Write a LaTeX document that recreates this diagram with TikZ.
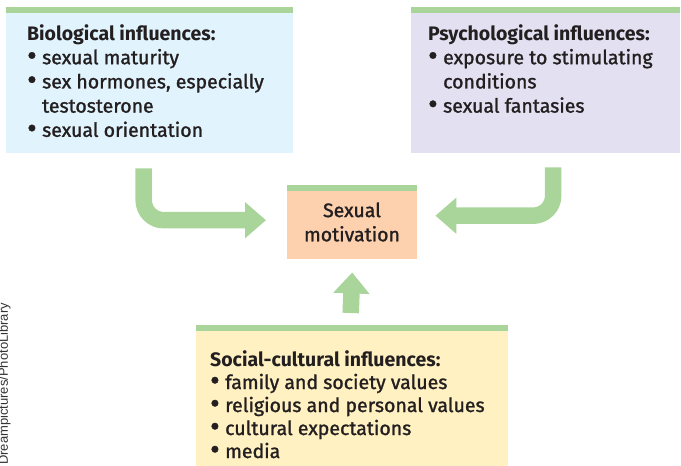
\documentclass[tikz,border=0pt]{standalone}
\usepackage{fontspec}
\setmainfont{Fira Sans}[UprightFeatures={FakeBold=1.3}]
\newfontfamily\creditfont{Liberation Sans}
\usepackage{xcolor}
\usetikzlibrary{arrows.meta}

\definecolor{barg}{RGB}{169,213,155}
\definecolor{biofill}{RGB}{225,243,252}
\definecolor{psyfill}{RGB}{227,224,241}
\definecolor{motfill}{RGB}{253,208,174}
\definecolor{socfill}{RGB}{255,241,193}
\definecolor{ink}{RGB}{35,31,32}

\newcommand\blt{\makebox[15pt][l]{\raisebox{-1.2pt}{\scalebox{1.5}{\textbullet}}}}
\newcommand\bltgap{\hspace*{15pt}}

\begin{document}
\begin{tikzpicture}[
    x=1pt, y=1pt,
    every node/.style={font=\fontsize{19.5}{24.2}\selectfont, text=ink, align=left, inner sep=0pt},
    panel/.style={rectangle, inner sep=0pt, anchor=north west, draw=none},
    flow/.style={draw=barg, line width=16.5pt, rounded corners=20pt,
      -{Triangle[length=21pt, width=35pt]}}
  ]
    \useasboundingbox (0,0) rectangle (681,-466);

    % Boxes
    \node[panel, fill=biofill, minimum width=287, minimum height=146] (bio)   at (6,-7) {};
    \node[panel, fill=psyfill, minimum width=269, minimum height=146] (psy)   at (411,-7) {};
    \node[panel, fill=motfill, minimum width=130, minimum height=74]  (motiv) at (287,-185) {};
    \node[panel, fill=socfill, minimum width=312, minimum height=141] (soc)   at (196,-325) {};

    % Green top bars
    \foreach \b in {bio, psy, motiv, soc}
      \fill[barg] (\b.north west) rectangle ([yshift=-5.5pt]\b.north east);

    % Texts
    \node[anchor=north west] (biotxt) at (27,-24) {%
      \textbf{Biological influences:}\\
      \blt sexual maturity\\
      \blt sex hormones, especially\\
      \bltgap testosterone\\
      \blt sexual orientation};
    \node[anchor=north west] (psytxt) at (428,-24) {%
      \textbf{Psychological influences:}\\
      \blt exposure to stimulating\\
      \bltgap conditions\\
      \blt sexual fantasies};
    \node[align=center] (mottxt) at (352,-222) {Sexual\\motivation};
    \node[anchor=north west, font=\fontsize{19.5}{23}\selectfont] (soctxt) at (210,-350) {%
      \textbf{Social-cultural influences:}\\
      \blt family and society values\\
      \blt religious and personal values\\
      \blt cultural expectations\\
      \blt media};

    % Arrows
    \draw[flow] ([shift={(-6,-15)}]bio.south) |- ([shift={(-21,2)}]motiv.west);
    \draw[flow] ([shift={(7.5,-14)}]psy.south) |- ([shift={(18,6.5)}]motiv.east);
    \draw[flow] ([shift={(-1.5,12)}]soc.north) -- ([yshift=-13pt]motiv.south);

    % Photo credit
    \node[rotate=90, anchor=base west, font=\creditfont\fontsize{13}{15}\selectfont, text=black!80] (credit)
      at (8,-465) {Dreampictures/PhotoLibrary};
\end{tikzpicture}
\end{document}
